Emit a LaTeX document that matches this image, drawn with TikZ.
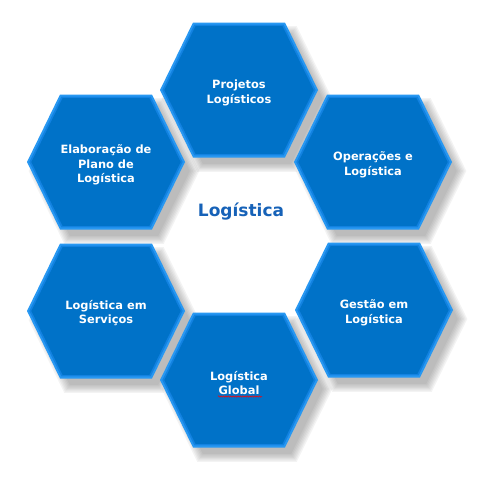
\documentclass[tikz,border=0pt]{standalone}
\usepackage{fontspec}
\setmainfont{DejaVu Sans}
\usetikzlibrary{decorations.pathmorphing}
\definecolor{hexouter}{RGB}{40,152,242}
\definecolor{hexmid}{RGB}{18,130,225}
\definecolor{hexinner}{RGB}{0,114,200}
\definecolor{titleblue}{RGB}{22,98,184}
\tikzset{
  pics/hexa/.style={code={\fill[#1] (-79,0) -- (-46,-67.5) -- (46,-67.5) -- (79,0) -- (46,67.5) -- (-46,67.5) -- cycle;}},
  hextext/.style={text=white, align=center, font=\fontsize{11.4}{14.5}\selectfont\bfseries, inner sep=0pt},
  title/.style={text=titleblue, font=\fontsize{17}{20}\selectfont\bfseries, inner sep=0pt}
}
\begin{document}
\begin{tikzpicture}[x=1pt,y=-1pt]
\useasboundingbox (0,0) rectangle (480,480);
\fill[white] (0,0) rectangle (480,480);
% shadows
\foreach \cx/\cy in {239/90, 106/162, 373/162, 106/311, 374/310, 239/380}{
  \foreach \s in {0.96,0.98,1.0,1.02,1.04,1.06,1.08}{
    \pic[scale=\s] at (\cx+8,\cy+9) {hexa={black!60,opacity=0.075}};
  }
}
% hexagons
\foreach \cx/\cy in {239/90, 106/162, 373/162, 106/311, 374/310, 239/380}{
  \pic at (\cx,\cy) {hexa={hexouter}};
  \pic[scale=0.97] at (\cx,\cy) {hexa={hexmid}};
  \pic[scale=0.945] at (\cx,\cy) {hexa={hexinner}};
}
% texts
\node[hextext] (proj) at (239,93) {Projetos\\Logísticos};
\node[hextext] (elab) at (106,165) {Elaboração de\\Plano de\\Logística};
\node[hextext] (oper) at (373,165) {Operações e\\Logística};
\node[hextext] (serv) at (106,313) {Logística em\\Serviços};
\node[hextext] (gest) at (374,313) {Gestão em\\Logística};
\node[hextext] (glob) at (239,383) {Logística\\Global};
\node[title] (log) at (241,212) {Logística};
\draw[red, line width=0.5pt, decorate, decoration={snake, amplitude=0.7pt, segment length=2.4pt}] (218,396.5) -- (262,396.5);
\end{tikzpicture}
\end{document}
